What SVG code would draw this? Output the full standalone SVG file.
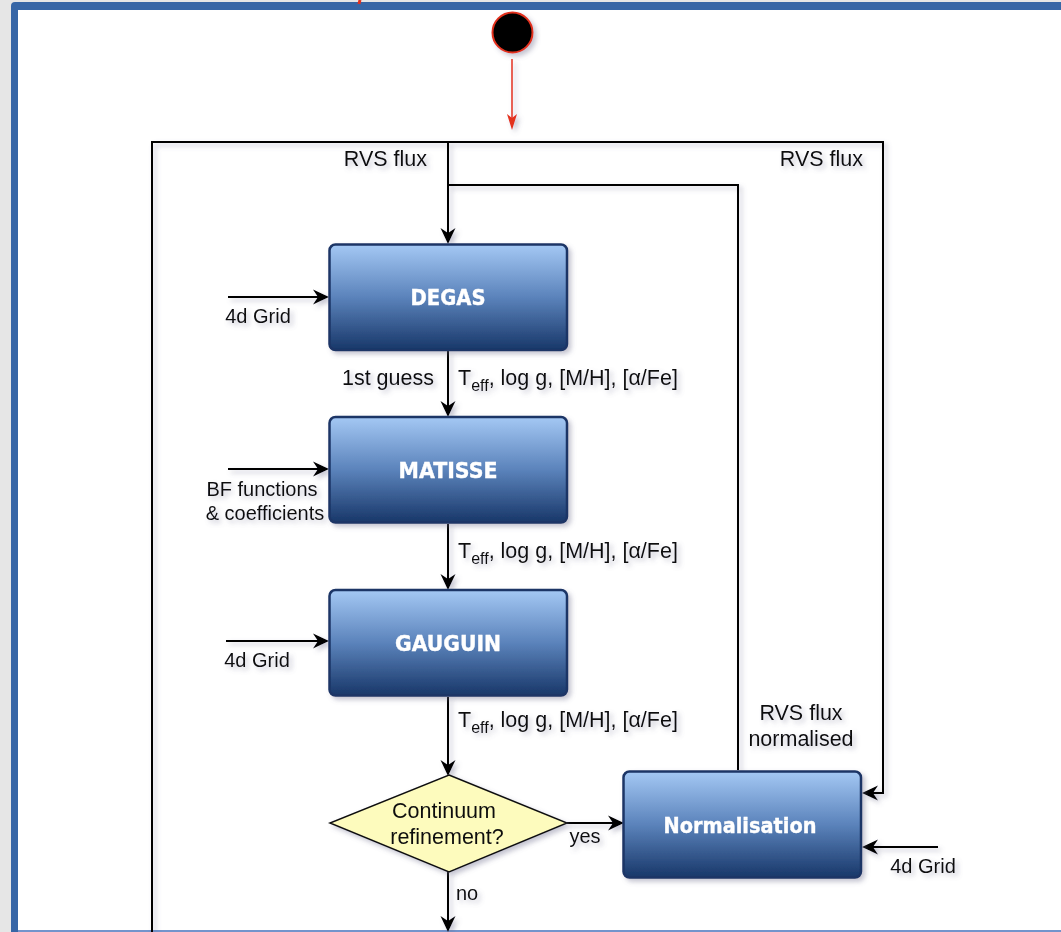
<svg xmlns="http://www.w3.org/2000/svg" width="1061" height="932" viewBox="0 0 1061 932">
  <defs>
    <linearGradient id="boxFill" x1="0" y1="0" x2="0" y2="1">
      <stop offset="0" stop-color="#a4c8f4"/>
      <stop offset="0.5" stop-color="#5b83bb"/>
      <stop offset="1" stop-color="#183769"/>
    </linearGradient>
    <filter id="shadow" x="-10%" y="-10%" width="130%" height="130%">
      <feGaussianBlur in="SourceAlpha" stdDeviation="2.5"/>
      <feOffset dx="3" dy="3" result="b"/>
      <feFlood flood-color="#6a6a8a" flood-opacity="0.4"/>
      <feComposite in2="b" operator="in"/>
      <feMerge>
        <feMergeNode/>
        <feMergeNode in="SourceGraphic"/>
      </feMerge>
    </filter>
    <!-- arrowhead pointing right, tip at the origin -->
    <path id="head" d="M0,0 L-16,-7.5 L-11,0 L-16,7.5 Z" fill="#000"/>
    <path id="redHead" d="M0,0 L-16,-5 L-12,0 L-16,5 Z" fill="#e3301e"/>
    <style>
      .conn { fill: none; stroke: #000; stroke-width: 2; }
      .box { fill: url(#boxFill); stroke: #1b3566; stroke-width: 2.5; }
      .boxText { font-family: "DejaVu Sans", Verdana, sans-serif; font-weight: bold; font-size: 22px; fill: #fff; stroke: #fff; stroke-width: 0.4; text-anchor: middle; }
      .lbl { font-family: "Liberation Sans", Arial, sans-serif; font-size: 21.5px; fill: #111; }
      .sm { font-size: 20px; }
      .mid { text-anchor: middle; }
      .end { text-anchor: end; }
    </style>
  </defs>

  <!-- window frame -->
  <rect x="0" y="0" width="1061" height="932" fill="#e6e6e6"/>
  <rect x="11" y="2" width="1100" height="1000" rx="4" fill="#3766a6"/>
  <rect x="18" y="10" width="1100" height="920" fill="#ffffff"/>
  <line x1="18" y1="931" x2="1061" y2="931" stroke="#7394cc" stroke-width="2"/>
  <line x1="360" y1="0" x2="359" y2="4" stroke="#e3301e" stroke-width="3"/>

  <!-- start node -->
  <g id="start" filter="url(#shadow)">
    <circle cx="512.5" cy="32.5" r="20" fill="#000" stroke="#e3301e" stroke-width="2"/>
  </g>

  <!-- connectors -->
  <g id="connectors" filter="url(#shadow)">
    <line x1="512" y1="59" x2="512" y2="122" stroke="#e3301e" stroke-width="1.5"/>
    <use href="#redHead" transform="translate(512,130) rotate(90)"/>
    <!-- RVS flux loop -->
    <path class="conn" d="M152,932 V142 H883 V793 H866"/>
    <use href="#head" transform="translate(862,793) rotate(180)"/>
    <path class="conn" d="M448,142 V236"/>
    <use href="#head" transform="translate(448,244) rotate(90)"/>
    <path class="conn" d="M738,770 V185 H448"/>
    <!-- grid / coefficient inputs -->
    <path class="conn" d="M228,297 H321"/>
    <use href="#head" transform="translate(329,297)"/>
    <path class="conn" d="M228,469 H321"/>
    <use href="#head" transform="translate(329,469)"/>
    <path class="conn" d="M226,641 H321"/>
    <use href="#head" transform="translate(329,641)"/>
    <path class="conn" d="M938,847 H868"/>
    <use href="#head" transform="translate(862,847) rotate(180)"/>
    <!-- main chain -->
    <path class="conn" d="M448,351 V409"/>
    <use href="#head" transform="translate(448,417) rotate(90)"/>
    <path class="conn" d="M448,524 V582"/>
    <use href="#head" transform="translate(448,590) rotate(90)"/>
    <path class="conn" d="M448,697 V768"/>
    <use href="#head" transform="translate(448,776) rotate(90)"/>
    <path class="conn" d="M567,823 H616"/>
    <use href="#head" transform="translate(624,823)"/>
    <path class="conn" d="M448,872 V924"/>
    <use href="#head" transform="translate(448,932) rotate(90)"/>
  </g>

  <!-- connector labels -->
  <g id="labels" filter="url(#shadow)" class="lbl">
    <text class="lbl end" x="427" y="166">RVS flux</text>
    <text class="lbl end" x="863" y="166">RVS flux</text>
    <text class="lbl sm mid" x="258" y="323">4d Grid</text>
    <text class="lbl end" x="434" y="385">1st guess</text>
    <text class="lbl" x="458" y="385">T<tspan font-size="16" dy="6">eff</tspan><tspan dy="-6">, log g, [M/H], [α/Fe]</tspan></text>
    <text class="lbl sm mid" x="262" y="496">BF functions</text>
    <text class="lbl sm mid" x="265" y="520">&amp; coefficients</text>
    <text class="lbl" x="458" y="558">T<tspan font-size="16" dy="6">eff</tspan><tspan dy="-6">, log g, [M/H], [α/Fe]</tspan></text>
    <text class="lbl sm mid" x="257" y="667">4d Grid</text>
    <text class="lbl" x="458" y="727">T<tspan font-size="16" dy="6">eff</tspan><tspan dy="-6">, log g, [M/H], [α/Fe]</tspan></text>
    <text class="lbl mid" x="801" y="720">RVS flux</text>
    <text class="lbl mid" x="801" y="746">normalised</text>
    <text class="lbl sm mid" x="585" y="843">yes</text>
    <text class="lbl sm mid" x="467" y="900">no</text>
    <text class="lbl sm mid" x="923" y="873">4d Grid</text>
  </g>

  <!-- process nodes -->
  <g id="degas" filter="url(#shadow)">
    <rect class="box" x="329.5" y="244.5" width="237.5" height="105.5" rx="6"/>
    <text class="boxText" x="448" y="305" textLength="75" lengthAdjust="spacingAndGlyphs">DEGAS</text>
  </g>
  <g id="matisse" filter="url(#shadow)">
    <rect class="box" x="329.5" y="417" width="237.5" height="105.5" rx="6"/>
    <text class="boxText" x="448" y="478" textLength="99" lengthAdjust="spacingAndGlyphs">MATISSE</text>
  </g>
  <g id="gauguin" filter="url(#shadow)">
    <rect class="box" x="329.5" y="590" width="237.5" height="105.5" rx="6"/>
    <text class="boxText" x="448" y="651" textLength="106" lengthAdjust="spacingAndGlyphs">GAUGUIN</text>
  </g>
  <g id="normalisation" filter="url(#shadow)">
    <rect class="box" x="623.5" y="771.5" width="237.5" height="106" rx="6"/>
    <text class="boxText" x="740" y="833" textLength="153" lengthAdjust="spacingAndGlyphs">Normalisation</text>
  </g>

  <!-- decision node -->
  <g id="continuum-refinement" filter="url(#shadow)">
    <polygon points="449,775 567,823 449,872 330,823" fill="#fdfbbd" stroke="#111" stroke-width="1.5"/>
    <text class="lbl mid" x="444" y="818">Continuum</text>
    <text class="lbl mid" x="447" y="844">refinement?</text>
  </g>
</svg>
